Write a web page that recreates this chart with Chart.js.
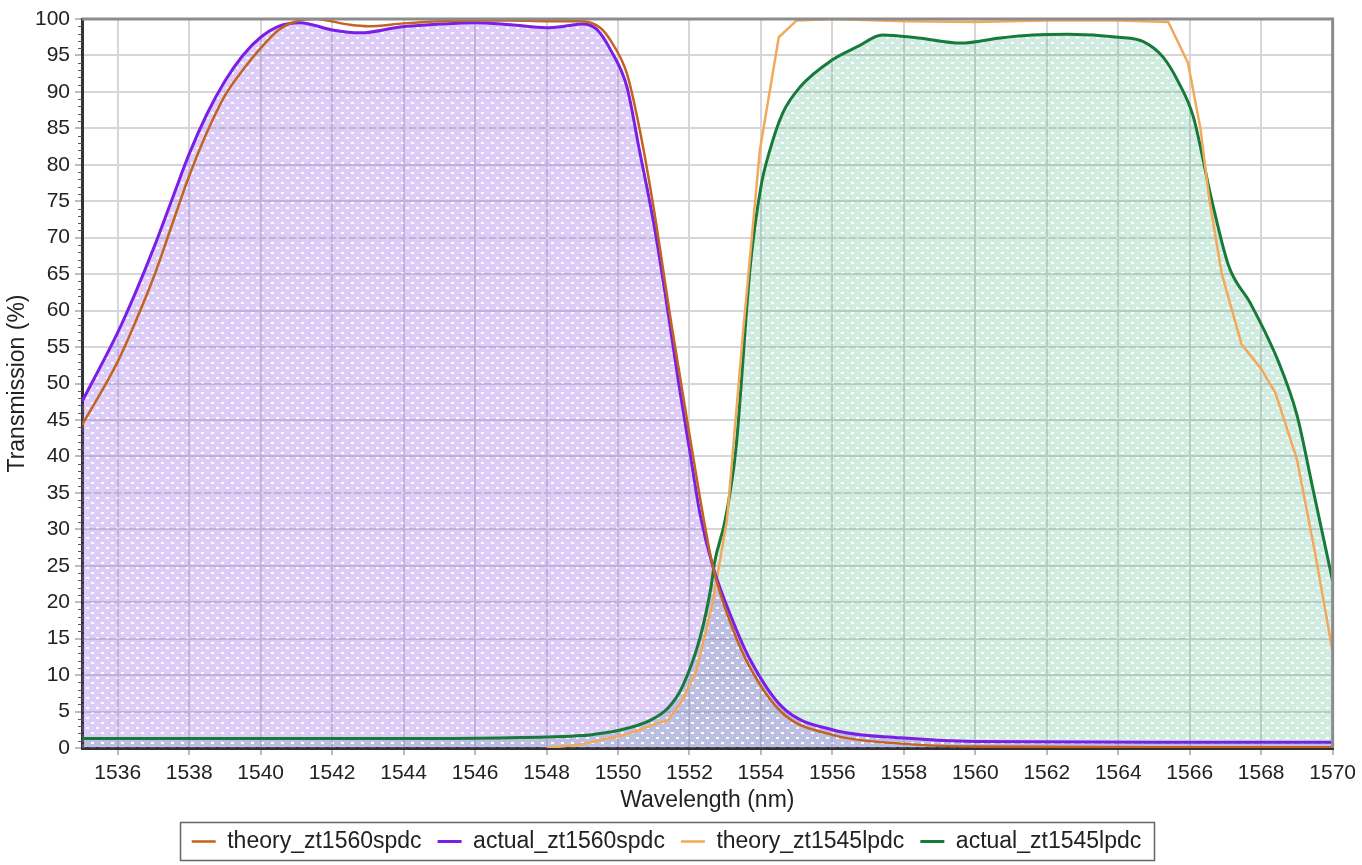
<!DOCTYPE html>
<html>
<head>
<meta charset="utf-8">
<script src="https://cdn.jsdelivr.net/npm/chart.js@4.4.1/dist/chart.umd.min.js"></script>
<style>
  html, body { margin: 0; padding: 0; background: #ffffff; }
  #wrap { width: 1362px; height: 865px; }
</style>
</head>
<body>
<div id="wrap"><canvas id="c" width="1362" height="865"></canvas></div>
<script>
// Axis ticks
const xTickValues = [1536, 1538, 1540, 1542, 1544, 1546, 1548, 1550, 1552, 1554, 1556, 1558, 1560, 1562, 1564, 1566, 1568, 1570];
const yTickValues = [0, 5, 10, 15, 20, 25, 30, 35, 40, 45, 50, 55, 60, 65, 70, 75, 80, 85, 90, 95, 100];

// theory_zt1560spdc
const theory1560X = [1535, 1536, 1536.5, 1537, 1537.5, 1538, 1538.5, 1539, 1539.5, 1540, 1540.5, 1541, 1541.5, 1542.5, 1543, 1544, 1545, 1546, 1547, 1548, 1549, 1549.5, 1549.8, 1550.25, 1550.6, 1551, 1551.5, 1552, 1552.65, 1553.2, 1553.7, 1554.6, 1556, 1557.9, 1560, 1565, 1570];
const theory1560Y = [44.3, 53, 58.5, 64.5, 71.5, 78.5, 84.5, 89.5, 93, 96, 98.5, 99.7, 100, 99.2, 99, 99.4, 99.7, 99.8, 99.8, 99.7, 99.7, 98.8, 97, 92.5, 85, 74, 58, 43, 25, 16.5, 11, 4.8, 1.8, 0.6, 0.2, 0.1, 0.1];

// actual_zt1560spdc
const actual1560X = [1535, 1536, 1536.5, 1537, 1537.5, 1538, 1538.5, 1539, 1539.5, 1540, 1540.5, 1541.1, 1542, 1542.8, 1543.9, 1545, 1546, 1547, 1548, 1548.5, 1549, 1549.4, 1549.8, 1550.25, 1550.6, 1551, 1551.3, 1551.7, 1552, 1552.3, 1552.65, 1553.2, 1553.7, 1554.6, 1556, 1557.9, 1560, 1565, 1570];
const actual1560Y = [47.5, 57, 62.5, 68.5, 75, 81.5, 87, 91.5, 95, 97.5, 99, 99.5, 98.5, 98.1, 98.9, 99.3, 99.5, 99.2, 98.8, 99, 99.3, 98.6, 95.7, 90.7, 82, 72, 63, 50, 41, 32, 25, 17.6, 12.1, 5.6, 2.5, 1.4, 0.9, 0.8, 0.8];

// theory_zt1545lpdc
const theory1545X = [1548, 1549, 1549.5, 1550, 1550.5, 1551, 1551.4, 1551.8, 1552.2, 1552.65, 1553.05, 1553.5, 1553.97, 1554.5, 1555, 1556, 1558, 1560, 1562, 1564, 1565.4, 1565.95, 1566.3, 1566.55, 1566.9, 1567.45, 1568, 1568.4, 1569, 1569.5, 1570];
const theory1545Y = [0, 0.5, 1.1, 1.6, 2.3, 3.2, 3.8, 6.5, 10.7, 19.9, 31.3, 57, 82, 97.5, 99.8, 100, 99.7, 99.6, 99.8, 99.8, 99.6, 94, 85, 75.2, 65, 55.4, 52, 48.7, 39.6, 27, 13.2];

// actual_zt1545lpdc
const actual1545X = [1535, 1540, 1545, 1547, 1548, 1549, 1549.5, 1550, 1550.9, 1551.4, 1551.8, 1552.3, 1552.6, 1552.7, 1553, 1553.3, 1553.7, 1554, 1554.25, 1554.6, 1555.1, 1556, 1556.7, 1557.4, 1558.4, 1559.6, 1560.7, 1561.6, 1562.6, 1564, 1564.7, 1565.25, 1565.7, 1566.1, 1566.6, 1567.1, 1567.7, 1568.5, 1569, 1569.45, 1570];
const actual1545Y = [1.3, 1.3, 1.3, 1.4, 1.5, 1.7, 2.0, 2.4, 3.8, 5.5, 8.4, 15.2, 22, 25.4, 31.3, 41, 66, 77, 82, 87, 90.7, 94.4, 96.2, 97.8, 97.4, 96.7, 97.4, 97.8, 97.9, 97.5, 96.9, 94.8, 91.2, 86.6, 75.5, 66, 61, 52.8, 45.7, 35.5, 22.9];

const toPoints = (xs, ys) => xs.map((x, i) => ({ x: x, y: ys[i] }));

// Dotted translucent fill textures (small light dots in a diamond lattice)
function dotPattern(color) {
  const t = document.createElement('canvas');
  t.width = 10; t.height = 10;
  const g = t.getContext('2d');
  g.fillStyle = color;
  g.fillRect(0, 0, 10, 10);
  g.clearRect(1, 2, 3, 2);
  g.clearRect(6, 7, 3, 2);
  return g.createPattern(t, 'repeat');
}
const ctx = document.getElementById('c').getContext('2d');
const purpleFill = dotPattern('rgba(150, 100, 230, 0.33)');
const greenFill = dotPattern('rgba(60, 170, 120, 0.24)');

// Small unlabeled ticks along the left axis
const minorTicks = {
  id: 'minorTicks',
  afterDraw(chart) {
    const y = chart.scales.y;
    const c = chart.ctx;
    c.save();
    c.strokeStyle = '#555';
    c.lineWidth = 1;
    for (let v = 0; v <= 100; v++) {
      if (v % 5 === 0) continue;
      const py = Math.round(y.getPixelForValue(v)) + 0.5;
      c.beginPath();
      c.moveTo(y.right - 4, py);
      c.lineTo(y.right, py);
      c.stroke();
    }
    c.restore();
  }
};

// Grey frame on the top and right edges of the plot area
const plotFrame = {
  id: 'plotFrame',
  afterDatasetsDraw(chart) {
    const a = chart.chartArea;
    const c = chart.ctx;
    c.save();
    c.strokeStyle = '#8c8c8c';
    c.lineWidth = 3;
    c.beginPath();
    c.moveTo(a.left, a.top);
    c.lineTo(a.right, a.top);
    c.lineTo(a.right, a.bottom);
    c.stroke();
    c.restore();
  }
};

// Box around the legend entries
const legendBox = {
  id: 'legendBox',
  afterDraw(chart) {
    const boxes = chart.legend && chart.legend.legendHitBoxes;
    if (!boxes || !boxes.length) return;
    let l = Infinity, r = -Infinity, t = Infinity, b = -Infinity;
    boxes.forEach(h => {
      l = Math.min(l, h.left); r = Math.max(r, h.left + h.width);
      t = Math.min(t, h.top); b = Math.max(b, h.top + h.height);
    });
    const c = chart.ctx;
    c.save();
    c.strokeStyle = '#666';
    c.lineWidth = 1.5;
    c.strokeRect(Math.round(l - 12) + 0.5, Math.round(t - 8) + 0.5, Math.round(r - l + 24), Math.round(b - t + 15));
    c.restore();
  }
};

const fontFamily = "'Liberation Sans', Arial, sans-serif";
const PLOT_BOTTOM = 748;

new Chart(ctx, {
  type: 'line',
  data: {
    datasets: [
      {
        label: 'theory_zt1560spdc',
        data: toPoints(theory1560X, theory1560Y),
        borderColor: '#c4621f',
        borderWidth: 2.5,
        pointRadius: 0,
        cubicInterpolationMode: 'monotone',
        fill: false
      },
      {
        label: 'actual_zt1560spdc',
        data: toPoints(actual1560X, actual1560Y),
        borderColor: '#7a1fe8',
        backgroundColor: purpleFill,
        borderWidth: 3,
        pointRadius: 0,
        cubicInterpolationMode: 'monotone',
        fill: 'origin'
      },
      {
        label: 'theory_zt1545lpdc',
        data: toPoints(theory1545X, theory1545Y),
        borderColor: '#f3a95c',
        borderWidth: 2.5,
        pointRadius: 0,
        tension: 0,
        fill: false
      },
      {
        label: 'actual_zt1545lpdc',
        data: toPoints(actual1545X, actual1545Y),
        borderColor: '#187a3a',
        backgroundColor: greenFill,
        borderWidth: 3,
        pointRadius: 0,
        cubicInterpolationMode: 'monotone',
        fill: 'origin'
      }
    ]
  },
  options: {
    responsive: false,
    animation: false,
    devicePixelRatio: 1,
    layout: { padding: { top: 19, right: 29, bottom: 2, left: 0 } },
    plugins: {
      filler: { drawTime: 'beforeDatasetsDraw' },
      tooltip: { enabled: false },
      legend: {
        position: 'bottom',
        labels: {
          usePointStyle: true,
          pointStyle: 'line',
          pointStyleWidth: 24,
          color: '#222',
          padding: 16,
          font: { family: fontFamily, size: 23 }
        }
      }
    },
    scales: {
      x: {
        type: 'linear',
        min: 1535,
        max: 1570,
        afterBuildTicks: s => { s.ticks = xTickValues.map(v => ({ value: v })); },
        afterFit: s => {
          const lg = s.chart.legend;
          const lh = lg && lg.height ? lg.height : 53;
          s.height = s.chart.height - 2 - lh - PLOT_BOTTOM;
        },
        ticks: {
          color: '#222',
          padding: 6,
          maxRotation: 0,
          font: { family: fontFamily, size: 21 },
          callback: v => String(v)
        },
        grid: { color: '#d6d6d6', lineWidth: 2, tickLength: 7, tickColor: '#bbb' },
        border: { color: '#333', width: 3 },
        title: {
          display: true,
          text: 'Wavelength (nm)',
          color: '#222',
          font: { family: fontFamily, size: 23 },
          padding: { top: 0, bottom: 0 }
        }
      },
      y: {
        type: 'linear',
        min: 0,
        max: 100,
        afterBuildTicks: s => { s.ticks = yTickValues.map(v => ({ value: v })); },
        afterFit: s => { s.width = 82; },
        ticks: {
          color: '#222',
          padding: 5,
          font: { family: fontFamily, size: 21 },
          callback: v => String(v)
        },
        grid: { color: '#d6d6d6', lineWidth: 2, tickLength: 7, tickColor: '#bbb' },
        border: { color: '#333', width: 3 },
        title: {
          display: true,
          text: 'Transmission (%)',
          color: '#222',
          font: { family: fontFamily, size: 23 },
          padding: { top: 4, bottom: 0 }
        }
      }
    }
  },
  plugins: [minorTicks, plotFrame, legendBox]
});
</script>
</body>
</html>
